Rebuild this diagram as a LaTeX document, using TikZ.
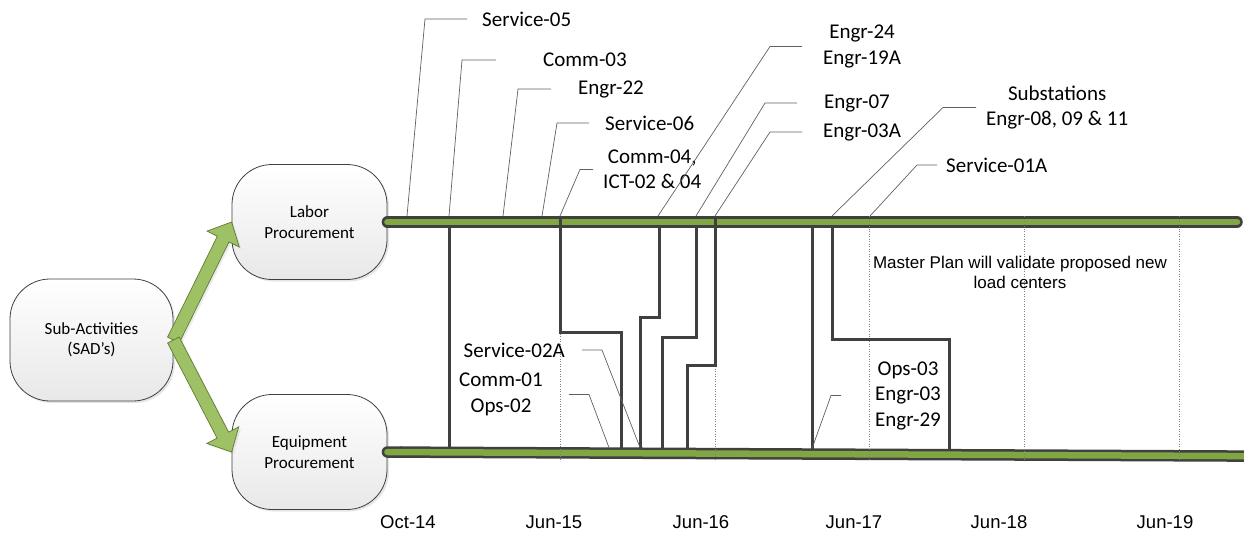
\documentclass[tikz,border=0pt]{standalone}
\usepackage{fontspec}
\setsansfont{Carlito}
\newfontfamily\arialfont{Liberation Sans}
\usetikzlibrary{calc,shadows}
\definecolor{bargreen}{HTML}{80A742}
\definecolor{arrowgreen}{HTML}{9FC165}
\definecolor{arrowedge}{HTML}{5F7A35}
\definecolor{linegray}{HTML}{404040}
\definecolor{leadgray}{HTML}{606060}
\begin{document}
\begin{tikzpicture}[x=1pt, y=-1pt, font=\sffamily\fontsize{21}{25.5}\selectfont,
          box/.style={draw=linegray, line width=0.8pt, rounded corners=40pt, top color=white, bottom color=black!9,
            drop shadow={shadow xshift=2pt, shadow yshift=-2pt, opacity=0.2}, align=center,
            minimum width=155pt, minimum height=115pt, font=\sffamily\fontsize{17}{20.5}\selectfont},
          blockarrow/.style={fill=arrowgreen, draw=arrowedge, line width=0.7pt, line join=miter,
            drop shadow={shadow xshift=2pt, shadow yshift=-2pt, opacity=0.15},
            to path={let \p1=(\tikztostart), \p2=(\tikztotarget), \n1={atan2(\y2-\y1,\x2-\x1)}, \n2={veclen(\x2-\x1,\y2-\y1)-19} in
              ($(\p1)+(\n1+90:6.5pt)$) -- ($(\p1)+(\n1:\n2)+(\n1+90:6.5pt)$) -- ($(\p1)+(\n1:\n2)+(\n1+90:18pt)$)
              -- (\p2) -- ($(\p1)+(\n1:\n2)+(\n1-90:18pt)$) -- ($(\p1)+(\n1:\n2)+(\n1-90:6.5pt)$)
              -- ($(\p1)+(\n1-90:6.5pt)$) -- cycle}},
          barout/.style={draw=linegray, line width=11.5pt, line cap=round},
          barin/.style={draw=bargreen, line width=6.5pt, line cap=round},
          stepline/.style={draw=linegray, line width=3pt},
          lead/.style={draw=leadgray, line width=0.7pt},
          gridline/.style={draw=gray, line width=0.5pt, dotted},
          lbl/.style={inner sep=0pt, align=center},
          date/.style={font=\arialfont\fontsize{18.5}{22}\selectfont}]
        \useasboundingbox (0,0) rectangle (1244,533);
        \node[box, minimum width=163pt, minimum height=122pt] (sub) at (91.5,340) {Sub-Activities\\(SAD’s)};
        \node[box] (lab) at (309.5,222) {Labor\\Procurement};
        \node[box] (eqp) at (309.5,452) {Equipment\\Procurement};
        \draw[blockarrow] (sub.east) to (lab.west);
        \draw[blockarrow] (sub.east) to (eqp.west);
        \draw[barout] (lab.east) -- (1237,222);
        \draw[barin] (lab.east) -- (1237,222);
        \draw[barout] (eqp.east) -- (400,452.1);
        \draw[barout, line cap=butt] (400,452.1) -- (1250,456.1);
        \draw[barin] (eqp.east) -- (400,452.1);
        \draw[barin, line cap=butt] (400,452.1) -- (1250,456.1);
        \foreach \x in {560,715,869,1024,1179}
          \draw[gridline] (\x,216) -- (\x,461);
        \draw[gridline] (700,453.5) -- (1244,456);
        \draw[stepline] (449,228) -- (449,447);
        \draw[stepline] (560,216) -- (560,332) -- (621,332) -- (621,447.5);
        \draw[stepline] (659,228) -- (659,317) -- (640,317) -- (640,447.5);
        \draw[stepline] (696,228) -- (696,337) -- (662,337) -- (662,447.5);
        \draw[stepline] (715,216) -- (715,365) -- (687,365) -- (687,448);
        \draw[stepline] (812,228) -- (812,448.5);
        \draw[stepline] (832,228) -- (832,339) -- (949,339) -- (949,449);
        \node[lbl, anchor=west] (s05) at (482,19) {Service-05};
        \node[lbl, anchor=west] (c03) at (543,60) {Comm-03};
        \node[lbl, anchor=west] (e22) at (578,89) {Engr-22};
        \node[lbl, anchor=west] (s06) at (605,123) {Service-06};
        \node[lbl, anchor=west] (c04) at (603,169.5) {Comm-04,\\ICT-02 \& 04};
        \node[lbl, anchor=west] (e24) at (823,46.5) {Engr-24\\Engr-19A};
        \node[lbl, anchor=west] (e07) at (824,103) {Engr-07};
        \node[lbl, anchor=west] (e03a) at (823,132) {Engr-03A};
        \node[lbl, anchor=west] (subst) at (986,107.5) {Substations\\Engr-08, 09 \& 11};
        \node[lbl, anchor=west] (s01a) at (946,165) {Service-01A};
        \node[lbl, anchor=east] (s02a) at (565,350) {Service-02A};
        \node[lbl] (c01) at (501,394.5) {Comm-01\\Ops-02};
        \node[lbl] (o03) at (908,395.5) {Ops-03\\Engr-03\\Engr-29};
        \node[lbl, font=\arialfont\fontsize{17}{20}\selectfont] (plan) at (1020,272) {Master Plan will validate proposed new\\load centers};
        \draw[lead] (407,216) -- (425,19) -- ([xshift=-15pt]s05.west);
        \draw[lead] (449,216) -- (462,60) -- ([xshift=-47pt]c03.west);
        \draw[lead] (503,216) -- (518,89) -- ([xshift=-27pt]e22.west);
        \draw[lead] (542,216) -- (557,123) -- ([xshift=-16pt]s06.west);
        \draw[lead] (560,216) -- (580,169.5) -- ([xshift=-10pt]c04.west);
        \draw[lead] (658,216) -- (770,46.5) -- ([xshift=-21pt]e24.west);
        \draw[lead] (696,216) -- (765,103) -- ([xshift=-27pt]e07.west);
        \draw[lead] (715,216) -- (770,132) -- ([xshift=-21pt]e03a.west);
        \draw[lead] (832,216) -- (943,107.5) -- ([xshift=-10pt]subst.west);
        \draw[lead] (870,216) -- (917,165) -- ([xshift=-9pt]s01a.west);
        \draw[lead] ([xshift=17pt]s02a.east) -- (602,350) -- (640,447.5);
        \draw[lead] ([xshift=26pt]c01.east) -- (589,394.5) -- (609,447.5);
        \draw[lead] ([xshift=-34pt]o03.west) -- (831,395.5) -- (812,448.5);
        \foreach \x/\t [count=\i] in {408/Oct-14, 554/Jun-15, 701/Jun-16, 854/Jun-17, 999/Jun-18, 1165/Jun-19}
          \node[date] (d\i) at (\x,522) {\t};
      \end{tikzpicture}
\end{document}
